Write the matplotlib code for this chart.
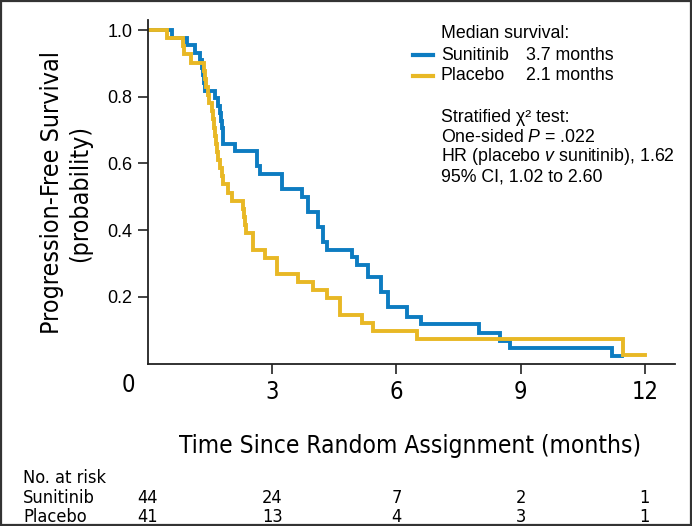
import matplotlib
matplotlib.use('Agg')
import matplotlib.pyplot as plt
from matplotlib import font_manager as fm
from matplotlib.lines import Line2D
from matplotlib.patches import Rectangle
import matplotlib.transforms as mtransforms

plt.rcParams['mathtext.fontset'] = 'custom'
plt.rcParams['mathtext.rm'] = 'Liberation Sans'
plt.rcParams['mathtext.it'] = 'Liberation Sans:italic'


def _weight_ok(w):
    return w in (400, 'normal', 'regular', 'book')


# pick a narrow sans face if the machine has one, else Roboto (narrower than DejaVu)
NARROW = None
_cond = []
for f in fm.fontManager.ttflist:
    if f.style != 'normal' or not _weight_ok(f.weight):
        continue
    if 'Mono' in f.name or 'Serif' in f.name or 'CJK' in f.name:
        continue
    if 'Narrow' in f.name or (f.name.endswith('Condensed') and 'Extra' not in f.name
                              and 'Semi' not in f.name):
        _cond.append(dict(family=f.name))
    elif str(f.stretch) == 'condensed':
        _cond.append(dict(family=f.name, stretch='condensed'))
for pref in ['Liberation Sans Narrow', 'DejaVu Sans', 'Noto Sans', 'Roboto', 'Open Sans']:
    for c in _cond:
        if c['family'].startswith(pref):
            NARROW = c
            break
    if NARROW:
        break
if NARROW is None:
    NARROW = _cond[0] if _cond else dict(family=['Roboto', 'DejaVu Sans'])
REG = dict(family=['Liberation Sans', 'DejaVu Sans'])

# Kaplan-Meier steps (time in months, survival after the drop)
suni_t = [0.57, 0.93, 1.14, 1.26, 1.30, 1.34, 1.36, 1.38, 1.62, 1.70, 1.74, 1.77, 1.78,
          1.80, 1.82, 2.10, 2.63, 2.71, 3.23, 3.71, 3.86, 4.11, 4.23, 4.32, 4.93, 5.04,
          5.31, 5.63, 5.80, 6.25, 6.60, 8.00, 8.50, 8.74, 11.20]
suni_s = [0.977, 0.955, 0.932, 0.909, 0.886, 0.864, 0.841, 0.818, 0.795, 0.773, 0.750,
          0.727, 0.705, 0.682, 0.659, 0.636, 0.591, 0.568, 0.523, 0.500, 0.455, 0.409,
          0.364, 0.341, 0.318, 0.295, 0.260, 0.215, 0.170, 0.140, 0.118, 0.091, 0.068,
          0.045, 0.023]
suni_end = 11.45

plac_t = [0.45, 0.85, 0.87, 1.05, 1.36, 1.38, 1.40, 1.45, 1.47, 1.55, 1.57, 1.59, 1.61,
          1.64, 1.66, 1.70, 1.74, 1.78, 1.82, 1.94, 2.03, 2.30, 2.32, 2.34, 2.36, 2.54,
          2.83, 3.11, 3.63, 3.99, 4.32, 4.64, 5.16, 5.44, 6.49, 11.48]
plac_s = [0.976, 0.951, 0.927, 0.902, 0.878, 0.854, 0.829, 0.805, 0.780, 0.756, 0.732,
          0.707, 0.683, 0.659, 0.634, 0.610, 0.585, 0.561, 0.537, 0.512, 0.488, 0.463,
          0.439, 0.415, 0.390, 0.341, 0.317, 0.268, 0.244, 0.220, 0.195, 0.146, 0.122,
          0.098, 0.073, 0.024]
plac_end = 12.0

risk_months = [0, 3, 6, 9, 12]
risk_suni = [44, 24, 7, 2, 1]
risk_plac = [41, 13, 4, 3, 1]

x_ticks = [3, 6, 9, 12]
y_ticks = [0.2, 0.4, 0.6, 0.8, 1.0]

BLUE = '#0d7cc1'
YELLOW = '#e8b825'

W, H = 692, 526
fig = plt.figure(figsize=(W / 100, H / 100), dpi=100)
ax = fig.add_axes([148 / W, 1 - 363.5 / H, (675 - 148) / W, (363.5 - 20) / H])
renderer = fig.canvas.get_renderer()


def fit(txt, width=None, height=None):
    # rescale a text so its box has the width (or height) seen in the reference
    bb = txt.get_window_extent(renderer=renderer)
    cur = bb.width if width else bb.height
    txt.set_fontsize(txt.get_fontsize() * (width or height) / cur)
    return txt.get_fontsize()


def steps(t, s, end):
    xs = [0] + t + [end]
    ys = [1.0] + s + [s[-1]]
    return xs, ys


xs, ys = steps(suni_t, suni_s, suni_end)
ax.plot(xs, ys, drawstyle='steps-post', color=BLUE, lw=2.8, solid_joinstyle='miter')
xs, ys = steps(plac_t, plac_s, plac_end)
ax.plot(xs, ys, drawstyle='steps-post', color=YELLOW, lw=2.8, solid_joinstyle='miter')

ax.set_xlim(0, 12.73)
ax.set_ylim(0, 1.03)
for sp in ['top', 'right']:
    ax.spines[sp].set_visible(False)
for sp in ['left', 'bottom']:
    ax.spines[sp].set_linewidth(1.3)
    ax.spines[sp].set_color('#222222')

ax.set_xticks(x_ticks)
ax.set_xticklabels([str(v) for v in x_ticks], fontsize=17, **NARROW)
ax.set_yticks(y_ticks)
ax.set_yticklabels(['%.1f' % v for v in y_ticks], fontsize=13, **REG)
ax.tick_params(axis='both', direction='out', length=7, width=1.2, color='#222222')
ax.tick_params(axis='x', pad=5)
ax.tick_params(axis='y', pad=4)

# the zero label sits left of the axis corner, on the tick label row
tr_x = mtransforms.blended_transform_factory(ax.transData, fig.transFigure)
ax.text(-0.48, 1 - 385 / H, '0', transform=tr_x, ha='center', va='center',
        fontsize=17, clip_on=False, **NARROW)

xl = fig.text(410 / W, 1 - 446 / H, 'Time Since Random Assignment (months)',
              ha='center', va='center', fontsize=23, **NARROW)
fit(xl, width=462)
yl = fig.text(66 / W, 1 - 193 / H, 'Progression-Free Survival\n(probability)',
              ha='center', va='center', rotation=90, fontsize=20, linespacing=1.2,
              **NARROW)
fit(yl, height=282)

# legend / statistics block
fs = 12.8
fig.text(441 / W, 1 - 33 / H, 'Median survival:', va='center', fontsize=fs, **REG)
fig.text(441 / W, 1 - 55 / H, 'Sunitinib', va='center', fontsize=fs, **REG)
fig.text(526 / W, 1 - 55 / H, '3.7 months', va='center', fontsize=fs, **REG)
fig.text(441 / W, 1 - 76 / H, 'Placebo', va='center', fontsize=fs, **REG)
fig.text(526 / W, 1 - 76 / H, '2.1 months', va='center', fontsize=fs, **REG)
fig.add_artist(Line2D([413 / W, 433 / W], [1 - 55 / H] * 2, color=BLUE, lw=3))
fig.add_artist(Line2D([413 / W, 433 / W], [1 - 76 / H] * 2, color=YELLOW, lw=3))
stats = ['Stratified \u03c7\u00b2 test:',
         'One-sided $P$ = .022',
         'HR (placebo $v$ sunitinib), 1.62',
         '95% CI, 1.02 to 2.60']
for i, line in enumerate(stats):
    fig.text(441 / W, 1 - (117 + 20 * i) / H, line, va='center', fontsize=fs, **REG)

# number at risk table
probe = fig.text(23 / W, 1 - 498 / H, 'Sunitinib', va='center', fontsize=15, **NARROW)
rfs = fit(probe, width=72)
fig.text(23 / W, 1 - 478 / H, 'No. at risk', va='center', fontsize=rfs, **NARROW)
fig.text(23 / W, 1 - 517 / H, 'Placebo', va='center', fontsize=rfs, **NARROW)
for m, a, b in zip(risk_months, risk_suni, risk_plac):
    ax.text(m, 1 - 498 / H, str(a), transform=tr_x, ha='center', va='center',
            fontsize=rfs, clip_on=False, **NARROW)
    ax.text(m, 1 - 517 / H, str(b), transform=tr_x, ha='center', va='center',
            fontsize=rfs, clip_on=False, **NARROW)

fig.add_artist(Rectangle((0.0015, 0.002), 0.997, 0.996, transform=fig.transFigure,
                         fill=False, edgecolor='#333333', lw=1.6))

fig.savefig('out.png', dpi=100)
